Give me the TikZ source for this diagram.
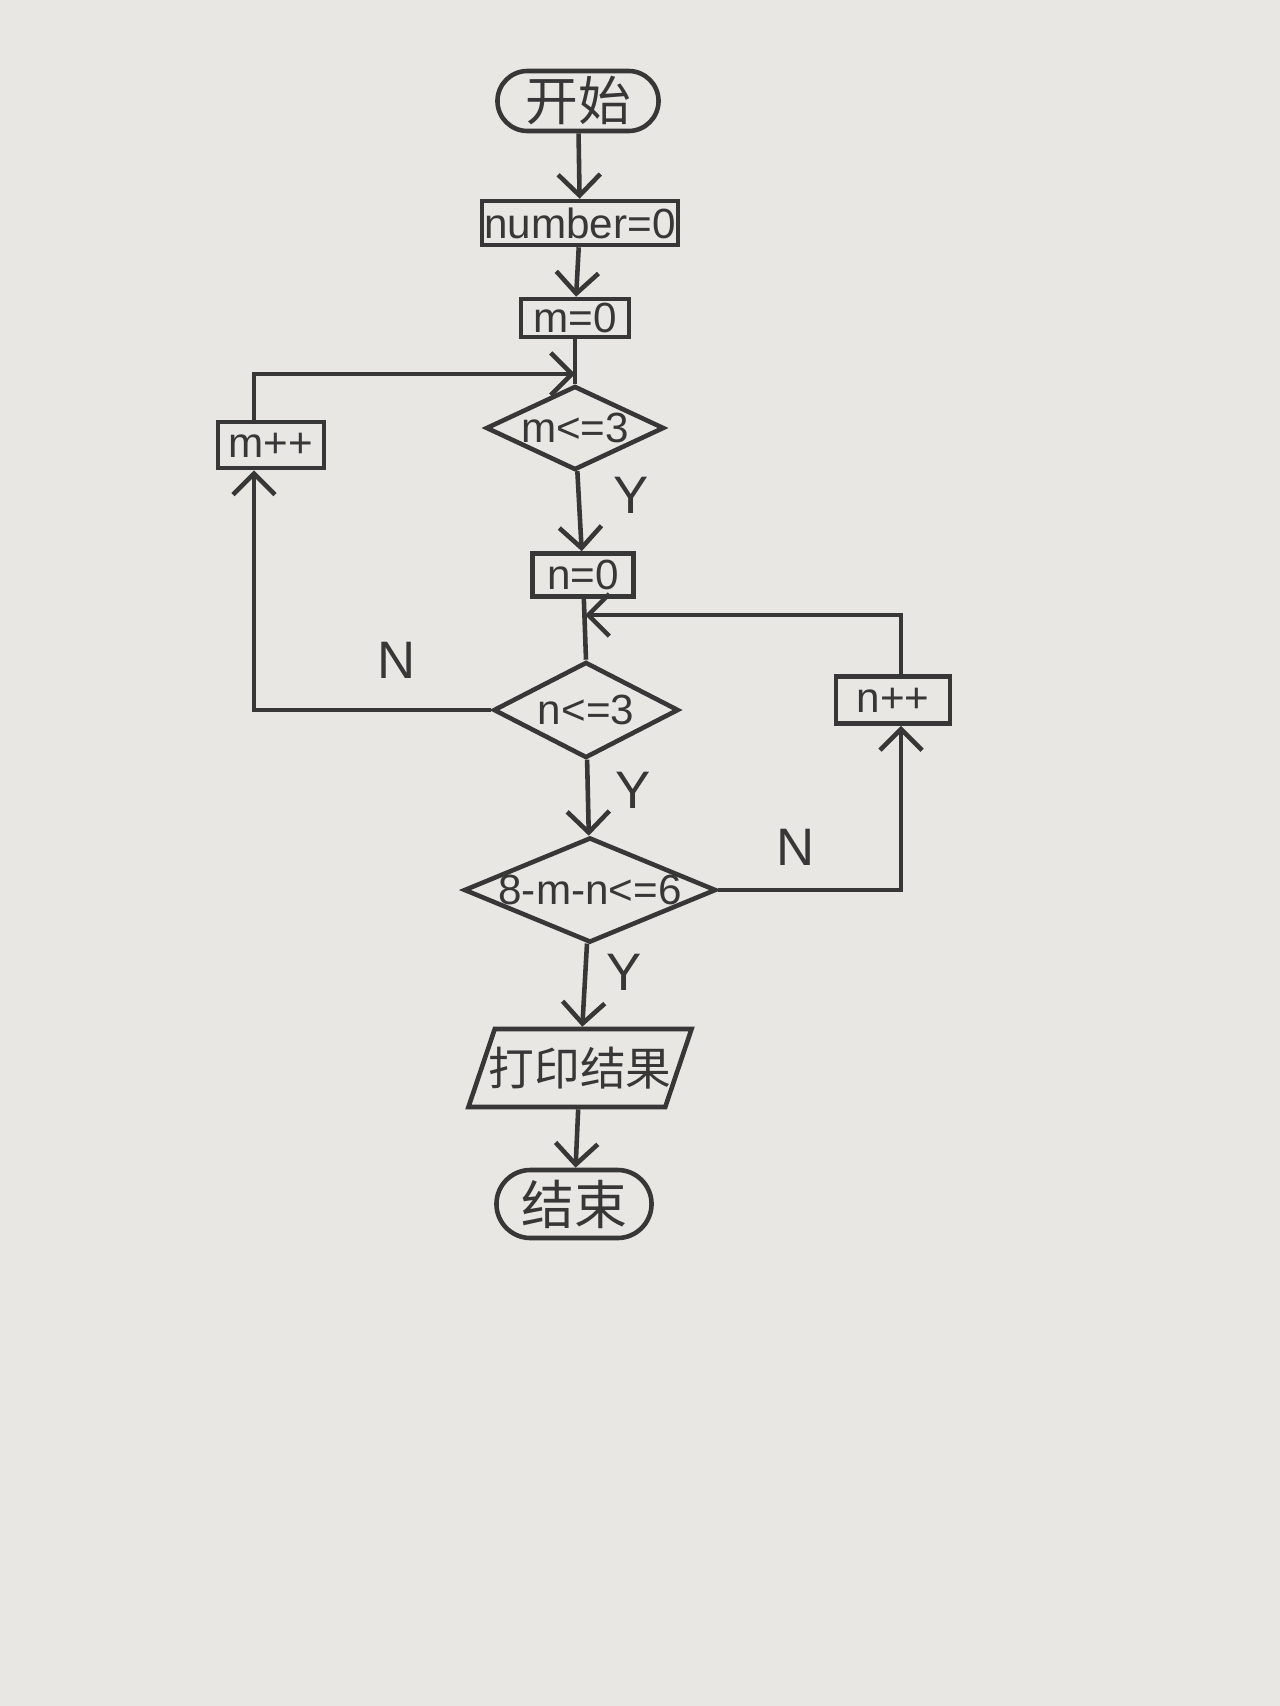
\documentclass[tikz,border=0pt]{standalone}
\usepackage{fontspec}
\setmainfont{Liberation Sans}
\newfontfamily\cjk{Noto Sans CJK SC}
\usetikzlibrary{shapes.geometric,shapes.misc,arrows.meta}
\definecolor{inkc}{RGB}{55,55,55}
\definecolor{paper}{RGB}{233,231,227}
\begin{document}
\begin{tikzpicture}[x=0.01cm,y=-0.01cm,
  ink/.style={draw=inkc, line width=1.3pt},
  proc/.style={ink, rectangle, inner sep=0pt, text=inkc, font=\fontsize{12}{14}\selectfont},
  term/.style={ink, rounded rectangle, inner sep=0pt, text=inkc, font=\cjk\fontsize{15}{17}\selectfont},
  dec/.style={ink, diamond, inner sep=0pt},
  dectxt/.style={text=inkc, font=\fontsize{12}{14}\selectfont},
  io/.style={ink, trapezium, trapezium left angle=58, trapezium right angle=122, trapezium stretches body, inner sep=0pt, text=inkc, font=\cjk\fontsize{13}{15}\selectfont},
  flow/.style={ink, -{Straight Barb[length=6pt,width=12pt]}},
  plain/.style={ink},
  yn/.style={text=inkc, font=\fontsize{15}{17}\selectfont}
]
\fill[paper] (0,0) rectangle (1280,1706);
\useasboundingbox (0,0) rectangle (1280,1706);

\node[term, minimum width=1.61cm, minimum height=0.60cm] (start) at (578,101) {开始};
\node[proc, minimum width=1.96cm, minimum height=0.44cm] (num) at (580,223) {number=0};
\node[proc, minimum width=1.08cm, minimum height=0.38cm] (m0) at (575,318) {m=0};
\node[dec, minimum width=1.78cm, minimum height=0.84cm, label={[dectxt]center:m<=3}] (d1) at (575,428) {};
\node[proc, minimum width=1.06cm, minimum height=0.46cm] (mpp) at (271,445) {m++};
\node[proc, minimum width=1.01cm, minimum height=0.43cm] (n0) at (583,575) {n=0};
\node[dec, minimum width=1.85cm, minimum height=0.96cm, label={[dectxt]center:n<=3}] (d2) at (586,710) {};
\node[proc, minimum width=1.14cm, minimum height=0.47cm] (npp) at (893,700) {n++};
\node[dec, minimum width=2.52cm, minimum height=1.05cm, label={[dectxt]center:8-m-n<=6}] (d3) at (590,890) {};
\node[io, minimum width=2.23cm, minimum height=0.78cm] (out) at (580,1068) {\makebox[0pt]{打印结果}};
\node[term, minimum width=1.55cm, minimum height=0.68cm] (end) at (574,1204) {结束};

\coordinate (j1) at (575,374);
\coordinate (j2) at (585,615);

\draw[flow] (start) -- (num);
\draw[flow] (num) -- (m0);
\draw[plain] (m0) -- (d1.north);
\draw[flow] (d1) -- (n0) node[yn, pos=0.3, right=6pt] {Y};
\draw[plain] (n0) -- (d2.north);
\draw[flow] (d2) -- (d3) node[yn, pos=0.4, right=4pt] {Y};
\draw[flow] (d3) -- (out) node[yn, pos=0.35, right=2pt] {Y};
\draw[flow] (out) -- (end);

\draw[flow] ([xshift=-0.17cm]mpp.north) |- (j1);
\draw[flow] (d2.west) -| ([xshift=-0.17cm]mpp.south) node[yn, pos=0.2, above=5pt] {N};
\draw[flow] ([xshift=0.08cm]npp.north) |- (j2);
\draw[flow] (d3.east) -| ([xshift=0.08cm]npp.south) node[yn, pos=0.21, above=3pt] {N};
\end{tikzpicture}
\end{document}
